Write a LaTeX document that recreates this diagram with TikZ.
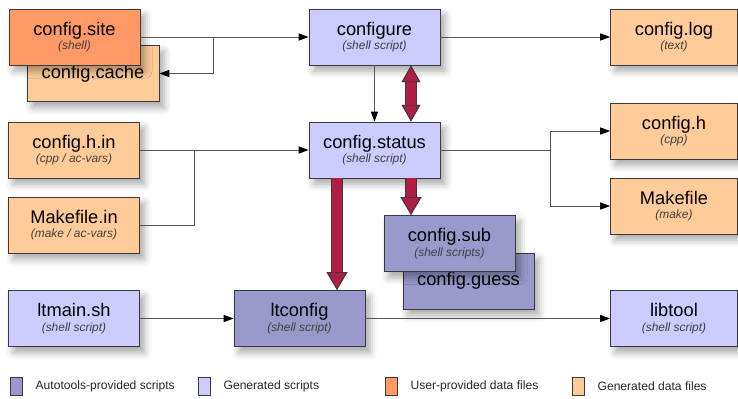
\documentclass[tikz,border=0pt]{standalone}
\usepackage{fontspec}
\setmainfont{Liberation Sans}
\usepackage{tikz}
\usetikzlibrary{positioning, arrows.meta, shadows.blur}
\usepackage{xcolor}

\definecolor{cfsite}{HTML}{FF9966}
\definecolor{cfdata}{HTML}{FFCC99}
\definecolor{cfgen}{HTML}{CCCCFF}
\definecolor{cfauto}{HTML}{9999CC}
\definecolor{cfred}{HTML}{B01E46}
\definecolor{cfdark}{HTML}{3A3A3A}
\definecolor{cfline}{HTML}{555555}

\newcommand{\subtxt}[1]{{\fontsize{8.5}{9}\selectfont\itshape\color{black!75}#1}}

\begin{document}
\begin{tikzpicture}[
    x=0.025cm, y=-0.025cm,
    box/.style={rectangle, draw=cfdark, line width=0.6pt, minimum width=3.275cm, minimum height=1.4cm,
        inner sep=0pt, align=center, font=\fontsize{13}{13}\selectfont,
        blur shadow={shadow xshift=0.12cm, shadow yshift=-0.15cm, shadow blur radius=0.18cm, shadow opacity=35}},
    narrow/.style={minimum width=3.175cm},
    sitebox/.style={box, fill=cfsite},
    databox/.style={box, fill=cfdata},
    genbox/.style={box, fill=cfgen},
    autobox/.style={box, fill=cfauto},
    conn/.style={draw=cfline, line width=0.7pt, -{Triangle[length=0.25cm, width=0.18cm, fill=black, color=black]}},
    link/.style={draw=cfline, line width=0.7pt},
    fat/.style={draw=cfred, line width=0.25cm,
        -{Triangle[length=0.45cm, width=0.5cm, fill=cfred, color=cfdark, line width=0.6pt]},
        preaction={draw=cfdark, line width=0.3cm, -{Triangle[length=0.45cm, width=0.5cm]}}},
    fatboth/.style={draw=cfred, line width=0.25cm,
        {Triangle[length=0.42cm, width=0.45cm, fill=cfred, color=cfdark, line width=0.6pt]}-{Triangle[length=0.42cm, width=0.45cm, fill=cfred, color=cfdark, line width=0.6pt]},
        preaction={draw=cfdark, line width=0.3cm, {Triangle[length=0.42cm, width=0.45cm]}-{Triangle[length=0.42cm, width=0.45cm]}}},
    keybox/.style={rectangle, draw=cfdark, line width=0.5pt, minimum width=0.3cm, minimum height=0.45cm, inner sep=0pt},
    keytext/.style={inner sep=0pt, anchor=west, font=\fontsize{8.6}{9}\selectfont, text=black!85}
]
    \useasboundingbox (0,0) rectangle (738,399);

    % top row
    \node[databox, minimum width=3.3cm] (cache) at (93,73.5) {\raisebox{-2pt}{config.cache}};
    \node[sitebox] (site) at (74.5,37) {config.site\\[-2.8pt]\subtxt{(shell)}};
    \node[genbox] (configure) at (374.5,37) {configure\\[-2.8pt]\subtxt{(shell script)}};
    \node[databox, narrow] (log) at (674,37) {config.log\\[-2.8pt]\subtxt{(text)}};

    % middle rows
    \node[databox] (hin) at (74,150) {config.h.in\\[-2.8pt]\subtxt{(cpp / ac-vars)}};
    \node[databox] (min) at (74,225) {Makefile.in\\[-2.8pt]\subtxt{(make / ac-vars)}};
    \node[genbox] (status) at (374.5,150) {config.status\\[-2.8pt]\subtxt{(shell script)}};
    \node[databox, narrow] (ch) at (674,131) {config.h\\[-2.8pt]\subtxt{(cpp)}};
    \node[databox, narrow] (mk) at (674,206) {Makefile\\[-2.8pt]\subtxt{(make)}};
    \node[autobox] (guess) at (468.5,281) {config.guess};
    \node[autobox] (sub) at (449.5,243.5) {config.sub\\[-2.8pt]\subtxt{(shell scripts)}};

    % bottom row
    \node[genbox] (ltmain) at (74,318.5) {ltmain.sh\\[-2.8pt]\subtxt{(shell script)}};
    \node[autobox] (ltconfig) at (299.5,318.5) {ltconfig\\[-2.8pt]\subtxt{(shell script)}};
    \node[genbox, narrow] (libtool) at (674,318.5) {libtool\\[-2.8pt]\subtxt{(shell script)}};

    % thin connectors
    \coordinate (sitejoin) at (213,37);
    \coordinate (injoin) at (194,150);
    \coordinate (outjoin) at (550,150);
    \draw[conn] (site) -- (configure);
    \draw[conn] (sitejoin) |- (cache.east);
    \draw[conn] (configure) -- (log);
    \draw[conn] (configure) -- (status);
    \draw[conn] (hin) -- (status);
    \draw[link] (min.east) -| (injoin);
    \draw[link] (status.east) -- (outjoin);
    \draw[conn] (outjoin) |- (ch.west);
    \draw[conn] (outjoin) |- (mk.west);
    \draw[conn] (ltmain) -- (ltconfig);
    \draw[conn] (ltconfig) -- (libtool);

    % fat arrows
    \coordinate (redA) at (337,0);
    \coordinate (redB) at (411,0);
    \draw[fatboth] (configure.south -| redB) -- (status.north -| redB);
    \draw[fat] (status.south -| redB) -- (sub.north -| redB);
    \draw[fat] (status.south -| redA) -- (ltconfig.north -| redA);

    % legend
    \node[keybox, fill=cfauto] (key1) at (16,386) {};
    \node[keytext, right=0.325cm of key1] (key1t) {Autotools-provided scripts};
    \node[keybox, fill=cfgen] (key2) at (204,386) {};
    \node[keytext, right=0.325cm of key2] (key2t) {Generated scripts};
    \node[keybox, fill=cfsite] (key3) at (391,386) {};
    \node[keytext, right=0.325cm of key3] (key3t) {User-provided data files};
    \node[keybox, fill=cfdata] (key4) at (578,386) {};
    \node[keytext, right=0.325cm of key4] (key4t) {Generated data files};

\end{tikzpicture}
\end{document}
